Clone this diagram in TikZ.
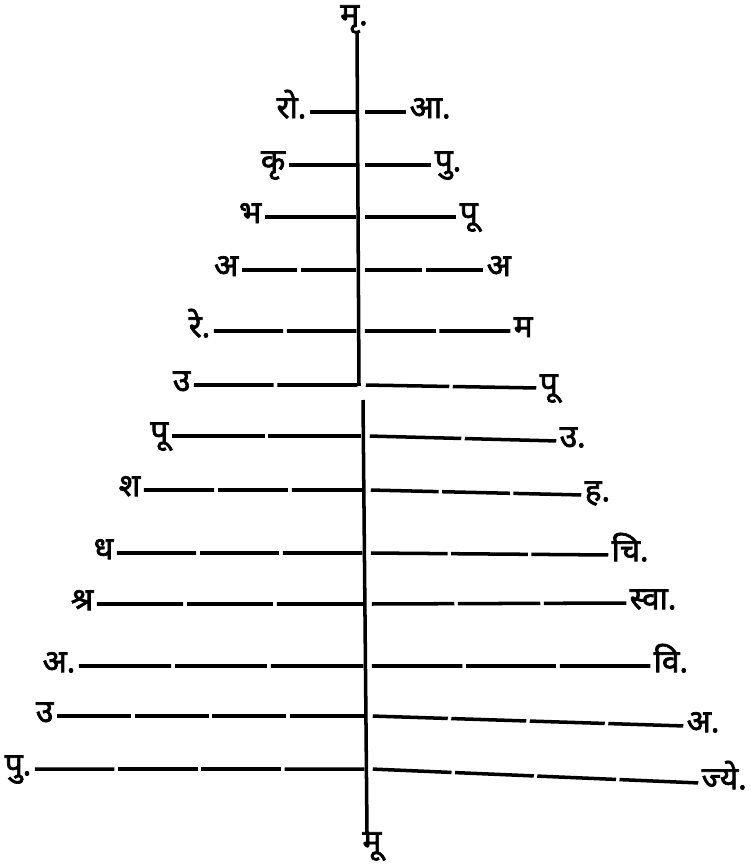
\documentclass[tikz,border=0pt]{standalone}
\usepackage{fontspec}
\newfontfamily\deva[Script=Devanagari,FakeBold=2.2]{Noto Sans}
\usetikzlibrary{calc}

\begin{document}
\begin{tikzpicture}[x=0.02cm,y=-0.02cm,line width=2pt,
  lbl/.style={font=\deva\fontsize{18}{20}\selectfont,inner sep=0pt,
    text height=0.7em,text depth=0pt}]
\useasboundingbox (0,0) rectangle (750,864);

% central line, broken below the sixth row
\coordinate (up1) at (357,33);
\coordinate (up2) at (359,386);
\coordinate (lo1) at (363,400);
\coordinate (lo2) at (367,833);
\node[lbl,anchor=base] (top) at (354,25) {मृ.};
\node[lbl,anchor=base] (bot) at (372,852) {मू};
\draw (up1) -- (up2);
\draw (lo1) -- (lo2);

\foreach \i/\yl/\yr/\ax/\lx/\ltxt/\rx/\rtxt/\n in {
  1/112/112/358/308/रो./408/आ./1,
  2/165/165/358/287/कृ/433/पु./1,
  3/217/217/358/263/भ/458/पू/1,
  4/270/270/358/240/अ/485/अ/2,
  5/331/331/358/212/रे./512/म/2,
  6/385/388/359/192/उ/538/पू/2,
  7/436/441/363/170/पू/558/उ./2,
  8/490/495/364/142/श/583/ह./3,
  9/553/555/364/115/ध/610/चि./3,
  10/604/603/365/95/श्र/628/स्वा./3,
  11/666/666/365/77/अ./652/वि./3,
  12/716/726/366/55/उ/685/अ./4,
  13/769/783/366/33/पु./700/ज्ये./4}
{
  \coordinate (A\i) at (\ax,\yl);
  \coordinate (B\i) at (\ax+5,\yl);
  \node[lbl,anchor=east] (L\i) at (\lx,\yl) {\ltxt};
  \node[lbl,anchor=west] (R\i) at (\rx,\yr) {\rtxt};
  \foreach \k in {1,...,\n}{
    \draw[shorten <=1pt,shorten >=1pt]
      ($(L\i.east)!{(\k-1)/\n}!(A\i)$) -- ($(L\i.east)!{\k/\n}!(A\i)$);
    \draw[shorten <=1pt,shorten >=1pt]
      ($(B\i)!{(\k-1)/\n}!(R\i.west)$) -- ($(B\i)!{\k/\n}!(R\i.west)$);
  }
}
\end{tikzpicture}
\end{document}
